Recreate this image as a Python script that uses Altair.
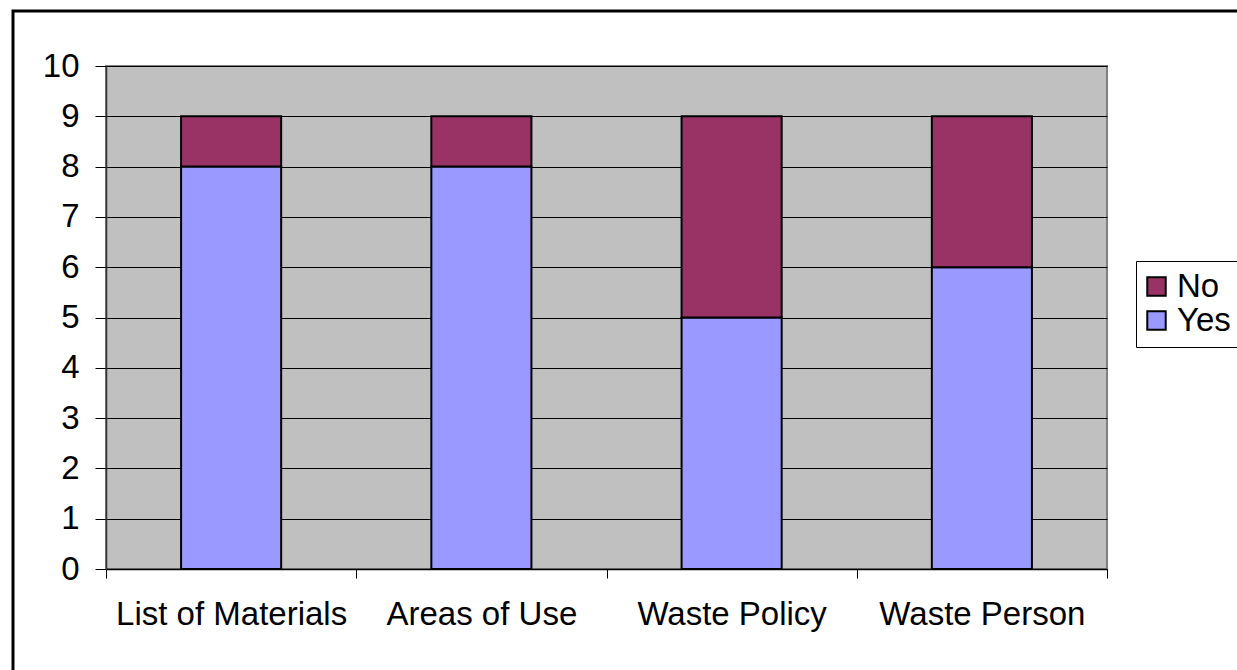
import altair as alt
import pandas as pd

categories = ["List of Materials", "Areas of Use", "Waste Policy", "Waste Person"]
yes_values = [8, 8, 5, 6]
no_values = [1, 1, 4, 3]
series = ["No", "Yes"]
series_colors = ["#993366", "#9999FF"]

rows = []
for c, y, n in zip(categories, yes_values, no_values):
    rows.append({"category": c, "series": "Yes", "value": y, "ord": 0})
    rows.append({"category": c, "series": "No", "value": n, "ord": 1})
df = pd.DataFrame(rows)

FONT = "Liberation Sans"

bars = alt.Chart(df).mark_bar(
    width=alt.RelativeBandSize(0.4), stroke="black", strokeWidth=2
).encode(
    x=alt.X(
        "category:N",
        sort=categories,
        scale=alt.Scale(paddingInner=0, paddingOuter=0),
        axis=alt.Axis(
            title=None, labelAngle=0, tickBand="extent", grid=False,
            tickSize=9, tickColor="black", domainColor="black", domainWidth=1.5,
            labelPadding=20, labelFontSize=33, labelFont=FONT, labelColor="black",
            labelLimit=0,
        ),
    ),
    y=alt.Y(
        "value:Q",
        stack="zero",
        scale=alt.Scale(domain=[0, 10], nice=False),
        axis=alt.Axis(
            title=None, values=list(range(11)), grid=True, gridColor="black",
            gridWidth=1, tickSize=11, tickColor="black", domainColor="#333333",
            domainWidth=1.5, labelPadding=16, labelFontSize=33, labelFont=FONT,
            labelColor="black",
        ),
    ),
    color=alt.Color(
        "series:N",
        scale=alt.Scale(domain=series, range=series_colors),
        legend=alt.Legend(
            title=None, orient="none", legendX=1030, legendY=195,
            strokeColor="black", fillColor="white", padding=9,
            symbolType="square", symbolSize=340, symbolStrokeColor="black",
            symbolStrokeWidth=2, symbolOffset=-5, labelFontSize=33, labelFont=FONT,
            labelColor="black", labelOffset=4, labelLimit=0, rowPadding=0,
        ),
    ),
    order=alt.Order("ord:Q"),
)

frame = alt.Chart(alt.Data(values=[{"a": 1}])).mark_rect(
    fill=None, stroke="black", strokeWidth=3, clip=False
).encode(
    x=alt.value(-93), x2=alt.value(1300), y=alt.value(-55), y2=alt.value(800)
)

chart = alt.layer(frame, bars).properties(
    width=1001, height=503,
    autosize=alt.AutoSizeParams(type="none"),
    padding={"left": 106, "top": 66, "right": 130, "bottom": 101},
    background="white",
).configure_view(
    fill="#C0C0C0", stroke="#808080", strokeWidth=2
)

chart.save("out.html", embed_options={"renderer": "svg", "actions": False})
